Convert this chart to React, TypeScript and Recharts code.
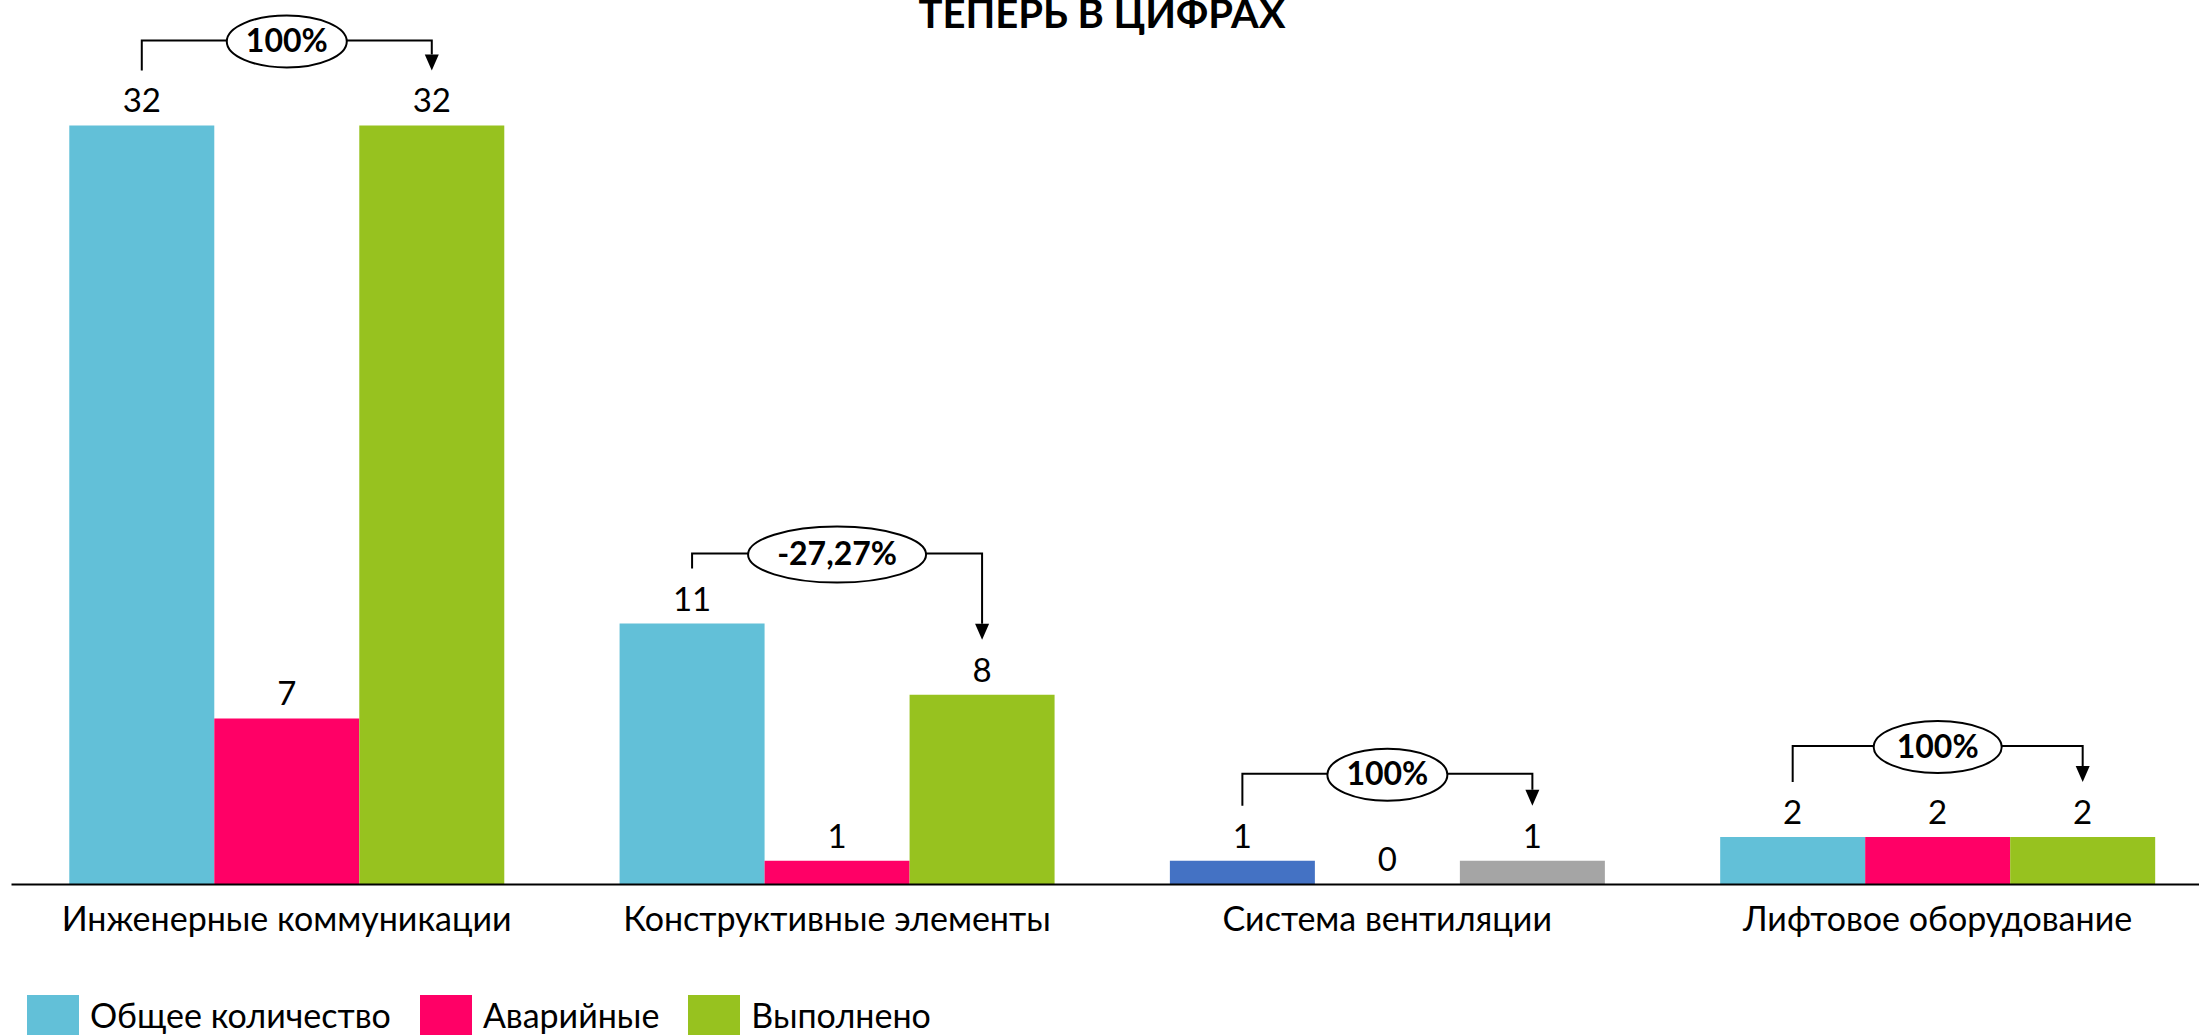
import { Bar, BarChart, Cell, LabelList, XAxis, YAxis } from 'recharts';

const categories = [
  'Инженерные коммуникации',
  'Конструктивные элементы',
  'Система вентиляции',
  'Лифтовое оборудование',
];
const totalCounts = [32, 11, 1, 2];
const emergencyCounts = [7, 1, 0, 2];
const completedCounts = [32, 8, 1, 2];
const changeLabels = ['100%', '-27,27%', '100%', '100%'];
const seriesNames = ['Общее количество', 'Аварийные', 'Выполнено'];
const chartTitle = 'ТЕПЕРЬ В ЦИФРАХ';

const CYAN = '#62C0D8';
const PINK = '#FF0066';
const GREEN = '#97C21F';
const BLUE = '#4472C4';
const GRAY = '#A5A5A5';
const FONT = 'Lato, "Open Sans", sans-serif';

// the ventilation group uses the default office palette in the original deck
const totalColors = [CYAN, CYAN, BLUE, CYAN];
const completedColors = [GREEN, GREEN, GRAY, GREEN];

// annotation styling (bracket rise above the higher bar, ellipse half sizes)
const bracketRise = [85, 70, 87, 91];
const ellipseRx = [60, 89, 60, 64];
const ellipseRy = [26, 28, 26, 26];

const LABEL_OFFSET = 13;

const data = categories.map((name, i) => ({
  name,
  total: totalCounts[i],
  emergency: emergencyCounts[i],
  completed: completedCounts[i],
}));

function CategoryTick(props: any) {
  const { x, y, payload } = props;
  return (
    <text x={x} y={y + 46} textAnchor="middle" fontSize={34} fontFamily={FONT} fill="#000">
      {payload.value}
    </text>
  );
}

// bracket + arrow from the first bar to the third one, with the change in an ellipse
function ChangeBracket(props: any) {
  const vb = props.viewBox || props;
  const { x, y, width, height } = vb;
  const i = props.index;
  const ppu = height / completedCounts[i];
  const base = y + height;
  const topLeft = base - totalCounts[i] * ppu;
  const topRight = y;
  const leftX = x - 2 * width + width / 2;
  const midX = x - width / 2;
  const rightX = x + width / 2;
  const lineY = Math.min(topLeft, topRight) - bracketRise[i];
  const gap = 55;
  const ah = 16;
  const aw = 7;
  return (
    <g>
      <path
        d={`M${leftX},${topLeft - gap} V${lineY} H${rightX} V${topRight - gap - ah}`}
        fill="none"
        stroke="#000"
        strokeWidth={2}
      />
      <polygon
        points={`${rightX - aw},${topRight - gap - ah} ${rightX + aw},${topRight - gap - ah} ${rightX},${topRight - gap}`}
        fill="#000"
      />
      <ellipse cx={midX} cy={lineY + 1} rx={ellipseRx[i]} ry={ellipseRy[i]} fill="#fff" stroke="#000" strokeWidth={2} />
      <text x={midX} y={lineY + 11.5} textAnchor="middle" fontSize={32} fontWeight={700} fontFamily={FONT} fill="#000">
        {changeLabels[i]}
      </text>
      {/* a zero-height bar gets no label from LabelList, so the 0 is drawn here */}
      {emergencyCounts[i] === 0 && (
        <text x={midX} y={base - LABEL_OFFSET - 1} textAnchor="middle" fontSize={33} fontFamily={FONT} fill="#000">
          {emergencyCounts[i]}
        </text>
      )}
    </g>
  );
}

export default function App() {
  const legendColors = [CYAN, PINK, GREEN];
  return (
    <div
      style={{
        position: 'fixed',
        left: 0,
        top: 0,
        width: 2199,
        height: 1035,
        overflow: 'hidden',
        background: '#fff',
        fontFamily: FONT,
      }}
    >
      <BarChart
        width={2213}
        height={1035}
        data={data}
        margin={{ top: 54.3, right: 0.3, left: 11.5, bottom: 90.5 }}
        barCategoryGap="10.5%"
        barGap={0}
      >
        <XAxis
          dataKey="name"
          height={60}
          interval={0}
          tickLine={false}
          tickSize={0}
          tickMargin={0}
          axisLine={{ stroke: '#000', strokeWidth: 2 }}
          tick={<CategoryTick />}
        />
        <YAxis hide domain={[0, 35]} />
        <Bar dataKey="total" name={seriesNames[0]} fill={CYAN} isAnimationActive={false}>
          {data.map((_, i) => (
            <Cell key={i} fill={totalColors[i]} />
          ))}
          <LabelList dataKey="total" position="top" offset={LABEL_OFFSET} fill="#000" fontSize={33} fontFamily={FONT} />
        </Bar>
        <Bar dataKey="emergency" name={seriesNames[1]} fill={PINK} isAnimationActive={false}>
          <LabelList dataKey="emergency" position="top" offset={LABEL_OFFSET} fill="#000" fontSize={33} fontFamily={FONT} />
        </Bar>
        <Bar dataKey="completed" name={seriesNames[2]} fill={GREEN} isAnimationActive={false}>
          {data.map((_, i) => (
            <Cell key={i} fill={completedColors[i]} />
          ))}
          <LabelList dataKey="completed" position="top" offset={LABEL_OFFSET} fill="#000" fontSize={33} fontFamily={FONT} />
          <LabelList dataKey="completed" content={(p: any) => <ChangeBracket {...p} />} />
        </Bar>
      </BarChart>

      <svg width={2199} height={60} style={{ position: 'absolute', left: 0, top: 0 }}>
        <text x={1102} y={28} textAnchor="middle" fontSize={40} fontWeight={700} fontFamily={FONT} fill="#000">
          {chartTitle}
        </text>
      </svg>

      <div style={{ position: 'absolute', left: 27, top: 995, display: 'flex', alignItems: 'flex-start' }}>
        {seriesNames.map((s, i) => (
          <div key={s} style={{ display: 'flex', alignItems: 'flex-start', marginRight: 29 }}>
            <div style={{ width: 52, height: 52, background: legendColors[i] }} />
            <span style={{ marginLeft: 11, fontSize: 34, lineHeight: '40px', marginTop: 0, color: '#000' }}>{s}</span>
          </div>
        ))}
      </div>
    </div>
  );
}
